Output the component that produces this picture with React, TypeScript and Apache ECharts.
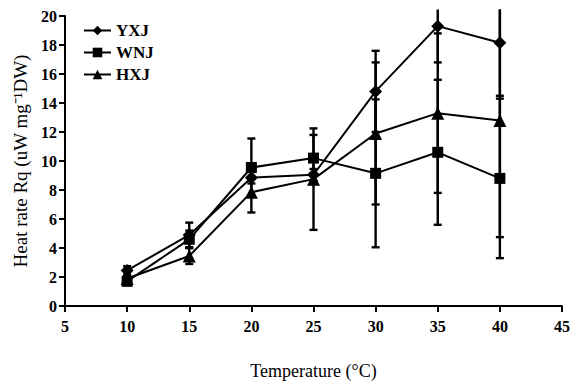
import React, { useEffect, useRef } from "react";
import * as echarts from "echarts";

const temps = [10, 15, 20, 25, 30, 35, 40];
const seriesNames = ["YXJ", "WNJ", "HXJ"];
const yxjMean = [2.45, 4.9, 8.85, 9.05, 14.8, 19.3, 18.15];
const yxjSd = [0.3, 0.85, 0.4, 0.4, 2.8, 2.5, 3.65];
const wnjMean = [1.7, 4.6, 9.55, 10.2, 9.15, 10.6, 8.8];
const wnjSd = [0.2, 0.6, 2.0, 1.6, 5.1, 5.0, 5.5];
const hxjMean = [1.9, 3.45, 7.85, 8.75, 11.9, 13.3, 12.8];
const hxjSd = [0.2, 0.55, 1.4, 3.5, 4.9, 5.5, 8.05];
const symbols = ["diamond", "rect", "triangle"];

const X_MIN = 5, X_MAX = 45, Y_MIN = 0, Y_MAX = 20;
const FONT = "'Liberation Serif', 'Times New Roman', serif";

export default function App() {
  const ref = useRef<HTMLDivElement>(null);
  useEffect(() => {
    if (!ref.current) return;
    const chart = echarts.init(ref.current, undefined, { renderer: "svg" });
    const means = [yxjMean, wnjMean, hxjMean];
    const sds = [yxjSd, wnjSd, hxjSd];

    const errData: number[][] = [];
    means.forEach((m, si) => {
      m.forEach((v, i) => {
        errData.push([temps[i], v - sds[si][i], v + sds[si][i]]);
      });
    });

    const lineSeries = seriesNames.map((name, si) => ({
      name,
      type: "line",
      data: temps.map((t, i) => [t, means[si][i]]),
      symbol: symbols[si],
      symbolSize: si === 1 ? 11 : 13,
      lineStyle: { color: "#000", width: 2 },
      itemStyle: { color: "#000" },
      z: 3,
    }));

    chart.setOption({
      animation: false,
      backgroundColor: "#fff",
      grid: { left: 65, right: 12, top: 16, bottom: 72, containLabel: false },
      legend: {
        orient: "vertical",
        left: 78,
        top: 17,
        itemGap: 5,
        itemWidth: 27,
        itemHeight: 12,
        data: seriesNames,
        textStyle: { fontFamily: FONT, fontWeight: "bold", fontSize: 17, color: "#000" },
      },
      xAxis: {
        type: "value",
        min: X_MIN,
        max: X_MAX,
        interval: 5,
        name: "Temperature (°C)",
        nameLocation: "middle",
        nameGap: 56,
        nameTextStyle: { fontFamily: FONT, fontSize: 18, color: "#000" },
        axisLine: { lineStyle: { color: "#000", width: 2 } },
        axisTick: { length: 6, lineStyle: { color: "#000", width: 2 } },
        axisLabel: { fontFamily: FONT, fontWeight: "bold", fontSize: 16, color: "#000", margin: 12 },
        splitLine: { show: false },
      },
      yAxis: {
        type: "value",
        min: Y_MIN,
        max: Y_MAX,
        interval: 2,
        name: "Heat rate Rq (uW mg⁻¹DW)",
        nameLocation: "middle",
        nameGap: 30,
        nameRotate: 90,
        nameTextStyle: { fontFamily: FONT, fontSize: 19, color: "#000" },
        axisLine: { lineStyle: { color: "#000", width: 2 } },
        axisTick: { length: 6, lineStyle: { color: "#000", width: 2 } },
        axisLabel: { fontFamily: FONT, fontWeight: "bold", fontSize: 16, color: "#000", margin: 8 },
        splitLine: { show: false },
      },
      series: [
        ...lineSeries,
        {
          type: "custom",
          clip: false,
          z: 2,
          data: errData,
          renderItem: (params: any, api: any) => {
            const x = api.value(0);
            const lo = Math.max(api.value(1), Y_MIN);
            const hiRaw = api.value(2);
            const clipped = hiRaw > Y_MAX + 0.45;
            const hi = Math.min(hiRaw, Y_MAX + 0.45);
            const pLo = api.coord([x, lo]);
            const pHi = api.coord([x, hi]);
            const cap = 4;
            const style = { stroke: "#000", lineWidth: 2.4 };
            const children: any[] = [
              { type: "line", shape: { x1: pLo[0], y1: pLo[1], x2: pHi[0], y2: pHi[1] }, style },
              { type: "line", shape: { x1: pLo[0] - cap, y1: pLo[1], x2: pLo[0] + cap, y2: pLo[1] }, style },
            ];
            if (!clipped) {
              children.push({ type: "line", shape: { x1: pHi[0] - cap, y1: pHi[1], x2: pHi[0] + cap, y2: pHi[1] }, style });
            }
            return { type: "group", children };
          },
        },
      ],
    });
    return () => chart.dispose();
  }, []);
  return <div ref={ref} style={{ width: 574, height: 385, position: "fixed", left: 0, top: 0 }} />;
}
